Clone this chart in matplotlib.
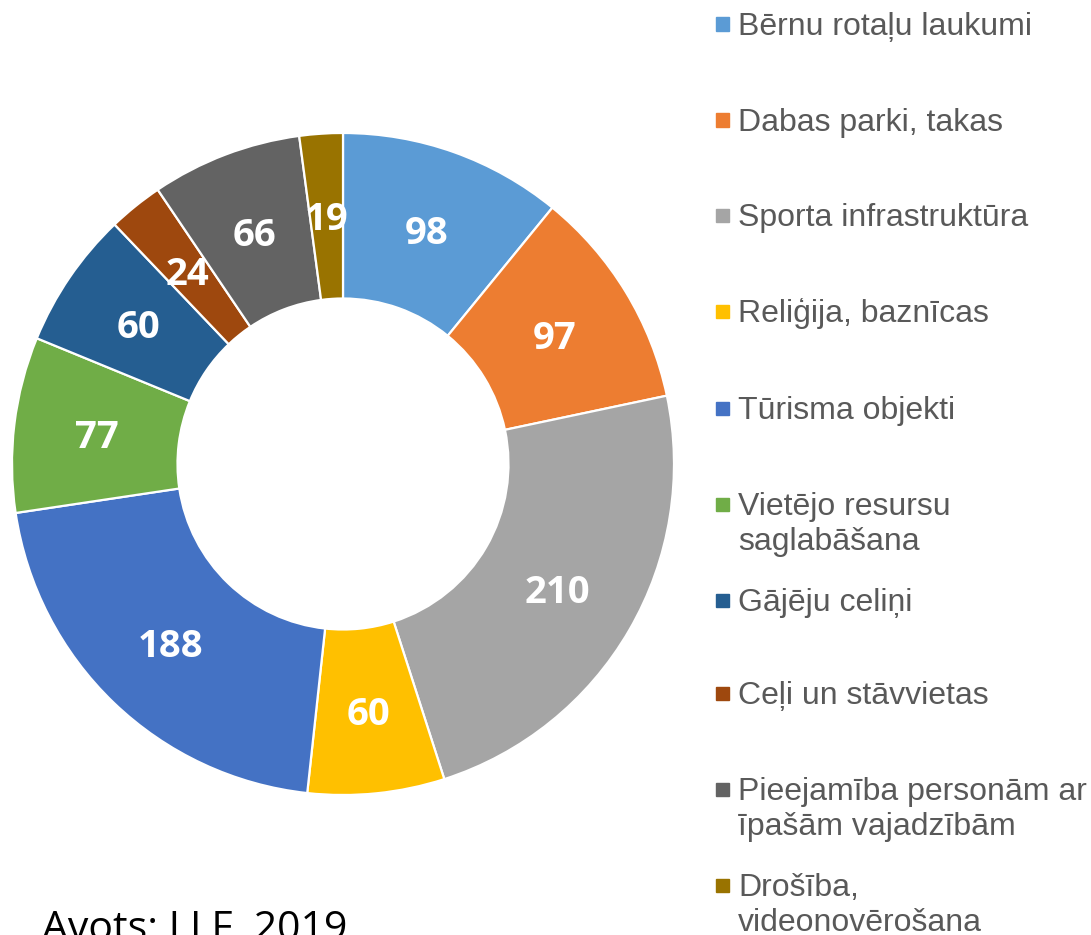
import numpy as np
import matplotlib.pyplot as plt
from matplotlib.patches import Rectangle
from matplotlib.transforms import offset_copy

# kategorijas un skaits (pulkstenrādītāja virzienā no augšas)
categories = [
    "Bērnu rotaļu laukumi",
    "Dabas parki, takas",
    "Sporta infrastruktūra",
    "Reliģija, baznīcas",
    "Tūrisma objekti",
    "Vietējo resursu\nsaglabāšana",
    "Gājēju celiņi",
    "Ceļi un stāvvietas",
    "Pieejamība personām ar\nīpašām vajadzībām",
    "Drošība,\nvideonovērošana",
]
values = [98, 97, 210, 60, 188, 77, 60, 24, 66, 19]
colors = ["#5B9BD5", "#ED7D31", "#A5A5A5", "#FFC000", "#4472C4",
          "#70AD47", "#255E91", "#9E480E", "#636363", "#997300"]

W, H = 1091, 935
fig = plt.figure(figsize=(W / 100, H / 100), dpi=100)

# gredzena asis: centrs (343, 464) px, rādiuss 331 px
cx, cy, r = 343, 464, 331
ax = fig.add_axes([(cx - r) / W, (H - cy - r) / H, 2 * r / W, 2 * r / H])
wedges, _ = ax.pie(values, colors=colors, startangle=90, counterclock=False,
                   radius=1.0,
                   wedgeprops=dict(width=0.5, edgecolor="white", linewidth=1.6))
lab_tr = offset_copy(ax.transData, fig=fig, x=0, y=-4, units="dots")
for w, v in zip(wedges, values):
    ang = np.deg2rad((w.theta1 + w.theta2) / 2)
    ax.text(0.75 * np.cos(ang), 0.75 * np.sin(ang), str(v), transform=lab_tr,
            ha="center", va="center", color="white", fontsize=27.5,
            fontweight="bold", family="Open Sans")
ax.set_xlim(-1, 1)
ax.set_ylim(-1, 1)
ax.set_aspect("auto")
ax.axis("off")

# leģenda labajā pusē: marķieris + teksts, katra rinda atsevišķi
leg_y = [24, 120, 215, 311, 408, 504, 600, 693, 789, 885]
for lab, col, y in zip(categories, colors, leg_y):
    fig.patches.append(Rectangle((716 / W, (H - y - 6.5) / H), 13 / W, 13 / H,
                                 transform=fig.transFigure, color=col))
    for k, line in enumerate(lab.split("\n")):
        fig.text(738 / W, (H - y - 11 - 35 * k) / H, line, ha="left",
                 va="baseline", fontsize=23, color="#595959",
                 family="Liberation Sans")

fig.text(42 / W, (H - 940) / H, "Avots: LLF, 2019", ha="left", va="baseline",
         fontsize=29.5, color="black", family="Open Sans")

fig.savefig("out.png", dpi=100)
